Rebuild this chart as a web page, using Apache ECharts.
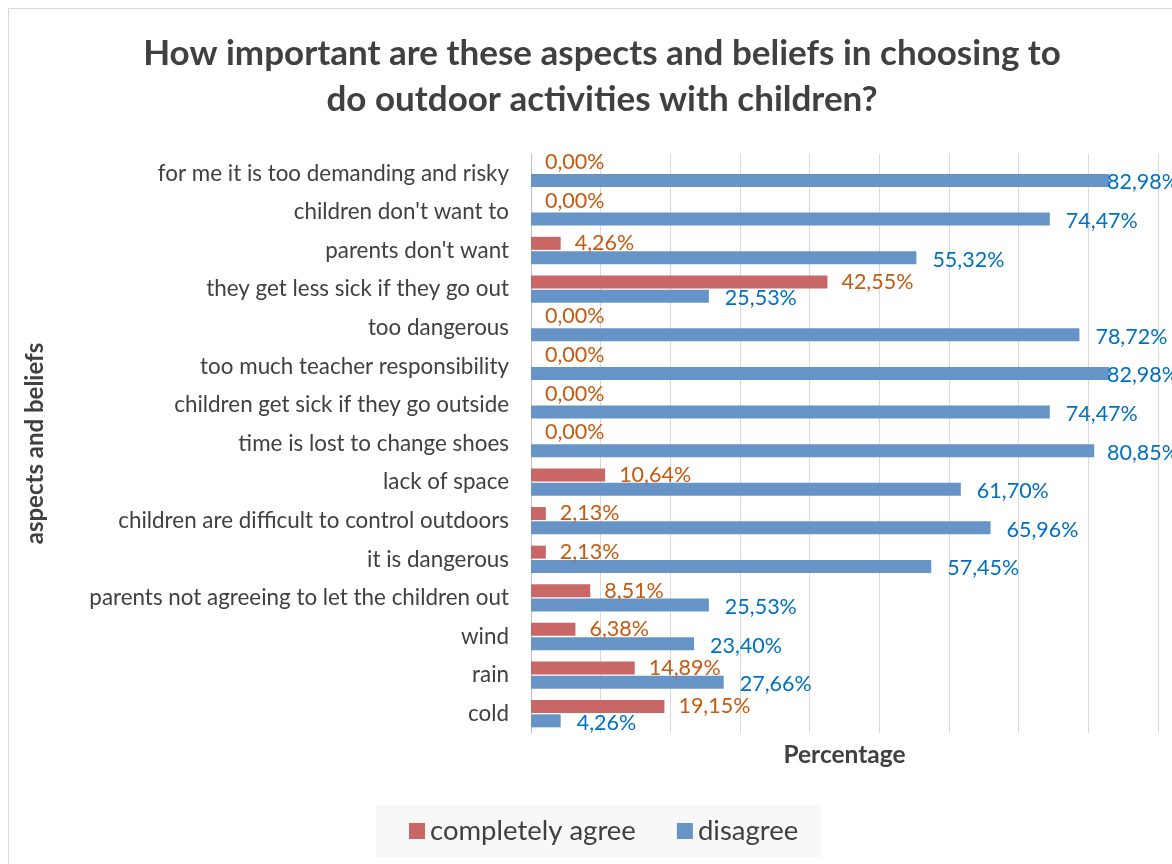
<!DOCTYPE html>
<html>
<head>
<meta charset="utf-8">
<title>Outdoor activities with children</title>
<script src="https://cdn.jsdelivr.net/npm/echarts@6/dist/echarts.min.js"></script>
<style>
  html, body { margin: 0; padding: 0; background: #ffffff; }
  #chart { width: 1172px; height: 864px; }
</style>
</head>
<body>
<div id="chart"></div>
<script>
// Survey answers, listed top to bottom as they appear on the chart
var categories = [
  "for me it is too demanding and risky",
  "children don't want to",
  "parents don't want",
  "they get less sick if they go out",
  "too dangerous",
  "too much teacher responsibility",
  "children get sick if they go outside",
  "time is lost to change shoes",
  "lack of space",
  "children are difficult to control outdoors",
  "it is dangerous",
  "parents not agreeing to let the children out",
  "wind",
  "rain",
  "cold"
];
var completelyAgree = [0.00, 0.00, 4.26, 42.55, 0.00, 0.00, 0.00, 0.00, 10.64, 2.13, 2.13, 8.51, 6.38, 14.89, 19.15];
var disagree = [82.98, 74.47, 55.32, 25.53, 78.72, 82.98, 74.47, 80.85, 61.70, 65.96, 57.45, 25.53, 23.40, 27.66, 4.26];

var seriesNames = ["completely agree", "disagree"];
var xMin = 0, xMax = 90, xStep = 10;

var FONT = "Lato, 'Open Sans', sans-serif";
var TEXT = "#404040";
var seriesData = [completelyAgree, disagree];

function pct(v) {
  return v.toFixed(2).replace(".", ",") + "%";
}

// keep value labels inside the chart frame on the right,
// and lift the labels of empty bars a little
var RIGHT_LIMIT = 1179;
function placeLabel(p) {
  var r = p.labelRect;
  var over = r.x + r.width - RIGHT_LIMIT;
  var v = seriesData[p.seriesIndex][p.dataIndex];
  var dy = p.seriesIndex === 1 ? 2 : (v === 0 ? -4 : 0);
  return { dx: over > 0 ? -over : 0, dy: dy };
}

var chart = echarts.init(document.getElementById("chart"), null, { renderer: "canvas" });

chart.setOption({
  animation: false,
  backgroundColor: "#ffffff",
  textStyle: { fontFamily: FONT },
  graphic: [
    {
      type: "rect",
      shape: { x: 8.5, y: 8.5, width: 1300, height: 1000 },
      style: { fill: "none", stroke: "#D9D9D9", lineWidth: 1 },
      silent: true,
      z: -10
    }
  ],
  title: {
    text: "How important are these aspects and beliefs in choosing to\ndo outdoor activities with children?",
    left: 597,
    top: 26,
    textAlign: "center",
    textStyle: {
      fontFamily: FONT,
      fontSize: 35,
      fontWeight: "bold",
      color: TEXT,
      lineHeight: 46
    }
  },
  legend: {
    data: seriesNames,
    left: 376,
    top: 805,
    padding: [12, 23, 12, 33],
    backgroundColor: "#F8F8F8",
    itemWidth: 16,
    itemHeight: 16,
    itemGap: 41,
    icon: "rect",
    textStyle: { fontFamily: FONT, fontSize: 27.5, color: TEXT }
  },
  grid: {
    left: 531,
    right: 14,
    top: 154,
    bottom: 131,
    containLabel: false
  },
  xAxis: {
    type: "value",
    min: xMin,
    max: xMax,
    interval: xStep,
    name: "Percentage",
    nameLocation: "middle",
    nameGap: 10,
    nameTextStyle: { fontFamily: FONT, fontSize: 24.5, fontWeight: "bold", color: TEXT, verticalAlign: "top" },
    axisLine: { show: false },
    axisTick: { show: false },
    axisLabel: { show: false },
    splitLine: { show: true, lineStyle: { color: "#D9D9D9", width: 1 } }
  },
  yAxis: {
    type: "category",
    data: categories,
    inverse: true,
    name: "aspects and beliefs",
    nameLocation: "middle",
    nameGap: 484,
    nameTextStyle: { fontFamily: FONT, fontSize: 24, fontWeight: "bold", color: TEXT },
    axisLine: { show: true, lineStyle: { color: "#BFBFBF", width: 1 } },
    axisTick: { show: false },
    axisLabel: { margin: 22, fontFamily: FONT, fontSize: 22.4, color: TEXT },
    splitLine: { show: false }
  },
  series: [
    {
      name: seriesNames[0],
      type: "bar",
      data: completelyAgree,
      barWidth: 13,
      barGap: "10%",
      itemStyle: { color: "#C96766" },
      label: {
        show: true,
        position: "right",
        distance: 14,
        formatter: function (p) { return pct(p.value); },
        fontFamily: FONT,
        fontSize: 21.5,
        color: "#C55A11"
      },
      labelLayout: placeLabel
    },
    {
      name: seriesNames[1],
      type: "bar",
      data: disagree,
      barWidth: 13,
      barGap: "10%",
      itemStyle: { color: "#6794C7" },
      label: {
        show: true,
        position: "right",
        distance: 16,
        formatter: function (p) { return pct(p.value); },
        fontFamily: FONT,
        fontSize: 21.5,
        color: "#0070C0"
      },
      labelLayout: placeLabel
    }
  ]
});
</script>
</body>
</html>
